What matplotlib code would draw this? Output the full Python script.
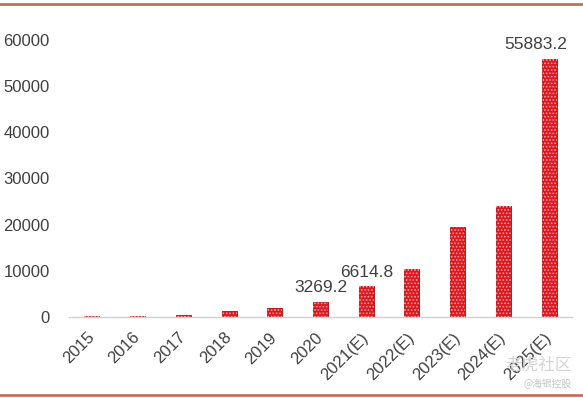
import matplotlib
matplotlib.use("Agg")
import matplotlib.pyplot as plt
from matplotlib.lines import Line2D

plt.rcParams['font.family'] = ['Liberation Sans', 'DejaVu Sans']
plt.rcParams['hatch.linewidth'] = 0.8

categories = ["2015", "2016", "2017", "2018", "2019", "2020",
              "2021(E)", "2022(E)", "2023(E)", "2024(E)", "2025(E)"]
values = [150, 250, 450, 1250, 1900, 3269.2, 6614.8, 10400, 19400, 24100, 55883.2]
labeled = {5: "3269.2", 6: "6614.8", 10: "55883.2"}
label_offsets = {5: (0, 5), 6: (0, 5), 10: (-10, 5)}
yticks = [0, 10000, 20000, 30000, 40000, 50000, 60000]

W, H = 583, 398
fig = plt.figure(figsize=(W / 100, H / 100), dpi=100)
ax = fig.add_axes([69 / W, (H - 317) / H, (572 - 69) / W, (317 - 40) / H])

x = list(range(len(categories)))
ax.bar(x, values, width=0.33, color="#e0141c", edgecolor="#a80c14", linewidth=0.6, zorder=2)
ax.bar(x, values, width=0.33, facecolor="none", edgecolor="#f6a6a6", linewidth=0,
       hatch=".....", zorder=3)

for i, txt in labeled.items():
    ax.annotate(txt, (x[i], values[i]), xytext=label_offsets[i], textcoords="offset points",
                ha="center", va="bottom", fontsize=12.5, color="#404040")

ax.set_xlim(-0.5, len(categories) - 0.5)
ax.set_ylim(0, 60000)
ax.set_yticks(yticks)
ax.set_yticklabels([str(v) for v in yticks], fontsize=12, color="#404040")
ax.set_xticks(x)
ax.set_xticklabels(categories, rotation=45, ha="right", va="center", rotation_mode="anchor",
                   fontsize=12, color="#404040")
ax.tick_params(axis="y", length=0, pad=14)
ax.tick_params(axis="x", length=0, pad=13)
for s in ["top", "right", "left"]:
    ax.spines[s].set_visible(False)
ax.spines["bottom"].set_color("#d0d0d0")
ax.spines["bottom"].set_linewidth(1.0)

# frame lines top and bottom
fig.add_artist(Line2D([0, 1], [1 - 3.5 / H, 1 - 3.5 / H], color="#b5775c", linewidth=2,
                      transform=fig.transFigure))
fig.add_artist(Line2D([0, 1], [1 - 394.5 / H, 1 - 394.5 / H], color="#b5775c", linewidth=2,
                      transform=fig.transFigure))

# watermark
fig.text(572 / W, 1 - 365 / H, "老虎社区", ha="right", va="center", fontsize=12,
         color="#d4d4d4", family=["Noto Sans CJK SC", "DejaVu Sans"])
fig.text(572 / W, 1 - 384 / H, "@海银控股", ha="right", va="center", fontsize=7,
         color="#c4c4c4", family=["Noto Sans CJK SC", "DejaVu Sans"])

fig.savefig("out.png", dpi=100)
